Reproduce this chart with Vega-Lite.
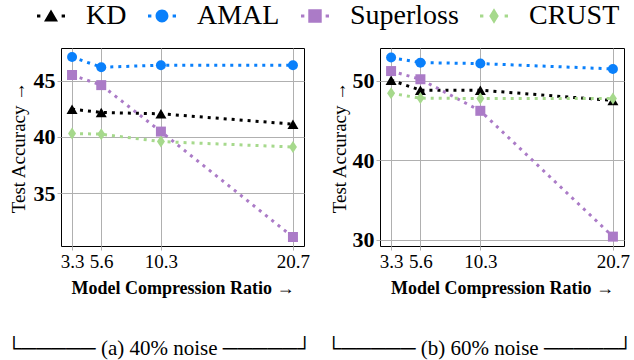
{
  "$schema": "https://vega.github.io/schema/vega-lite/v6.json",
  "autosize": {"type": "pad"},
  "padding": {"left": 5, "top": 2, "right": 6, "bottom": 0},
  "background": "white",
  "datasets": {
    "n40": [
      {"method": "KD", "ratio": 3.3, "acc": 42.46},
      {"method": "KD", "ratio": 5.6, "acc": 42.17},
      {"method": "KD", "ratio": 10.3, "acc": 42.05},
      {"method": "KD", "ratio": 20.7, "acc": 41.13},
      {"method": "AMAL", "ratio": 3.3, "acc": 47.1},
      {"method": "AMAL", "ratio": 5.6, "acc": 46.19},
      {"method": "AMAL", "ratio": 10.3, "acc": 46.37},
      {"method": "AMAL", "ratio": 20.7, "acc": 46.37},
      {"method": "Superloss", "ratio": 3.3, "acc": 45.5},
      {"method": "Superloss", "ratio": 5.6, "acc": 44.6},
      {"method": "Superloss", "ratio": 10.3, "acc": 40.47},
      {"method": "Superloss", "ratio": 20.7, "acc": 31.1},
      {"method": "CRUST", "ratio": 3.3, "acc": 40.3},
      {"method": "CRUST", "ratio": 5.6, "acc": 40.24},
      {"method": "CRUST", "ratio": 10.3, "acc": 39.58},
      {"method": "CRUST", "ratio": 20.7, "acc": 39.1}
    ],
    "n60": [
      {"method": "KD", "ratio": 3.3, "acc": 50.05},
      {"method": "KD", "ratio": 5.6, "acc": 48.8},
      {"method": "KD", "ratio": 10.3, "acc": 48.8},
      {"method": "KD", "ratio": 20.7, "acc": 47.5},
      {"method": "AMAL", "ratio": 3.3, "acc": 52.9},
      {"method": "AMAL", "ratio": 5.6, "acc": 52.26},
      {"method": "AMAL", "ratio": 10.3, "acc": 52.14},
      {"method": "AMAL", "ratio": 20.7, "acc": 51.47},
      {"method": "Superloss", "ratio": 3.3, "acc": 51.2},
      {"method": "Superloss", "ratio": 5.6, "acc": 50.17},
      {"method": "Superloss", "ratio": 10.3, "acc": 46.2},
      {"method": "Superloss", "ratio": 20.7, "acc": 30.38},
      {"method": "CRUST", "ratio": 3.3, "acc": 48.4},
      {"method": "CRUST", "ratio": 5.6, "acc": 47.8},
      {"method": "CRUST", "ratio": 10.3, "acc": 47.75},
      {"method": "CRUST", "ratio": 20.7, "acc": 47.75}
    ]
  },
  "config": {
    "font": "Liberation Serif",
    "view": {"stroke": "black", "strokeWidth": 1},
    "axis": {
      "grid": true, "gridColor": "#b0b0b0", "gridWidth": 1, "domain": false,
      "tickColor": "#b0b0b0", "tickSize": 4,
      "labelFont": "Liberation Serif", "titleFont": "Liberation Serif",
      "labelColor": "black", "titleColor": "black"
    },
    "axisX": {"labelFontSize": 19, "titleFontSize": 18, "titleFontWeight": "bold", "labelPadding": 2, "titlePadding": 8},
    "axisY": {"labelFontSize": 22, "labelFontWeight": "bold", "titleFontSize": 19, "titleFontWeight": "normal", "titlePadding": 5},
    "legend": {
      "labelFont": "serif", "labelFontSize": 28, "labelColor": "black", "labelFontWeight": "normal",
      "symbolSize": 784, "symbolStrokeWidth": 0, "symbolOpacity": 1, "padding": 0
    },
    "concat": {"spacing": 12}
  },
  "resolve": {"scale": {"color": "shared", "shape": "shared"}},
  "hconcat": [
    {
      "width": 243, "height": 198,
      "data": {"name": "n40"},
      "title": {"text": "└───── (a) 40% noise ─────┘", "orient": "bottom", "font": "Liberation Serif", "fontSize": 21, "fontWeight": "normal", "frame": "bounds", "anchor": "middle", "offset": 41, "color": "black"},
      "encoding": {
        "x": {"field": "ratio", "type": "quantitative", "scale": {"domain": [2.43, 21.57], "nice": false, "zero": false}, "axis": {"values": [3.3, 5.6, 10.3, 20.7], "format": ".1f", "title": "Model Compression Ratio →"}},
        "y": {"field": "acc", "type": "quantitative", "scale": {"domain": [30.3, 47.9], "nice": false, "zero": false}, "axis": {"values": [35, 40, 45], "title": "Test Accuracy →"}},
        "color": {
          "field": "method", "type": "nominal",
          "scale": {"domain": ["KD", "AMAL", "Superloss", "CRUST"], "range": ["#000000", "#0a80fb", "#ab7bc7", "#a6d98c"]},
          "legend": {"orient": "none", "legendX": -24, "legendY": -46, "direction": "horizontal", "title": null,
            "symbolSize": 784, "labelFont": "serif", "labelFontSize": 28, "labelColor": "black", "labelFontWeight": "normal",
            "labelOffset": 21, "columnPadding": 21, "padding": 0, "symbolStrokeWidth": 0, "symbolOpacity": 1}
        }
      },
      "layer": [
        {"mark": {"type": "point", "filled": true, "opacity": 0, "size": 100},
         "encoding": {"shape": {"field": "method", "type": "nominal",
           "legend": {"orient": "none", "legendX": -24, "legendY": -46, "direction": "horizontal", "title": null,
             "symbolSize": 784, "labelFont": "serif", "labelFontSize": 28, "labelColor": "black", "labelFontWeight": "normal",
             "labelOffset": 21, "columnPadding": 21, "padding": 0, "symbolStrokeWidth": 0, "symbolOpacity": 1},
           "scale": {"domain": ["KD", "AMAL", "Superloss", "CRUST"], "range": [
           "M-1,-0.1H-0.76V0.1H-1ZM0.76,-0.1H1V0.1H0.76ZM0,-0.46L0.5,0.4L-0.5,0.4Z",
           "M-1,-0.1H-0.76V0.1H-1ZM0.76,-0.1H1V0.1H0.76ZM0.46,0A0.46,0.46,0,1,1,-0.46,0A0.46,0.46,0,1,1,0.46,0Z",
           "M-1,-0.1H-0.76V0.1H-1ZM0.76,-0.1H1V0.1H0.76ZM-0.48,-0.48H0.48V0.48H-0.48Z",
           "M-1,-0.1H-0.76V0.1H-1ZM0.76,-0.1H1V0.1H0.76ZM0,-0.56L0.34,0L0,0.56L-0.34,0Z"]}}}},
        {"mark": {"type": "line", "strokeWidth": 3, "strokeDash": [3, 5], "strokeCap": "butt"}},
        {"transform": [{"filter": "datum.method === 'KD'"}], "mark": {"type": "point", "filled": true, "opacity": 1, "size": 100, "shape": "M0,-0.95L1.1,0.95L-1.1,0.95Z"}},
        {"transform": [{"filter": "datum.method === 'AMAL'"}], "mark": {"type": "point", "filled": true, "opacity": 1, "size": 100, "shape": "circle"}},
        {"transform": [{"filter": "datum.method === 'Superloss'"}], "mark": {"type": "point", "filled": true, "opacity": 1, "size": 100, "shape": "square"}},
        {"transform": [{"filter": "datum.method === 'CRUST'"}], "mark": {"type": "point", "filled": true, "opacity": 1, "size": 100, "shape": "M0,-1.2L0.8,0L0,1.2L-0.8,0Z"}}
      ]
    },
    {
      "width": 244, "height": 198,
      "data": {"name": "n60"},
      "title": {"text": "└───── (b) 60% noise ─────┘", "orient": "bottom", "font": "Liberation Serif", "fontSize": 21, "fontWeight": "normal", "frame": "bounds", "anchor": "middle", "offset": 41, "color": "black"},
      "encoding": {
        "x": {"field": "ratio", "type": "quantitative", "scale": {"domain": [2.43, 21.57], "nice": false, "zero": false}, "axis": {"values": [3.3, 5.6, 10.3, 20.7], "format": ".1f", "title": "Model Compression Ratio →"}},
        "y": {"field": "acc", "type": "quantitative", "scale": {"domain": [29.2, 54.1], "nice": false, "zero": false}, "axis": {"values": [30, 40, 50], "title": "Test Accuracy →", "titlePadding": 3}},
        "color": {"field": "method", "type": "nominal"}
      },
      "layer": [
        {"mark": {"type": "line", "strokeWidth": 3, "strokeDash": [3, 5], "strokeCap": "butt"}},
        {"transform": [{"filter": "datum.method === 'KD'"}], "mark": {"type": "point", "filled": true, "opacity": 1, "size": 100, "shape": "M0,-0.95L1.1,0.95L-1.1,0.95Z"}},
        {"transform": [{"filter": "datum.method === 'AMAL'"}], "mark": {"type": "point", "filled": true, "opacity": 1, "size": 100, "shape": "circle"}},
        {"transform": [{"filter": "datum.method === 'Superloss'"}], "mark": {"type": "point", "filled": true, "opacity": 1, "size": 100, "shape": "square"}},
        {"transform": [{"filter": "datum.method === 'CRUST'"}], "mark": {"type": "point", "filled": true, "opacity": 1, "size": 100, "shape": "M0,-1.2L0.8,0L0,1.2L-0.8,0Z"}}
      ]
    }
  ]
}
